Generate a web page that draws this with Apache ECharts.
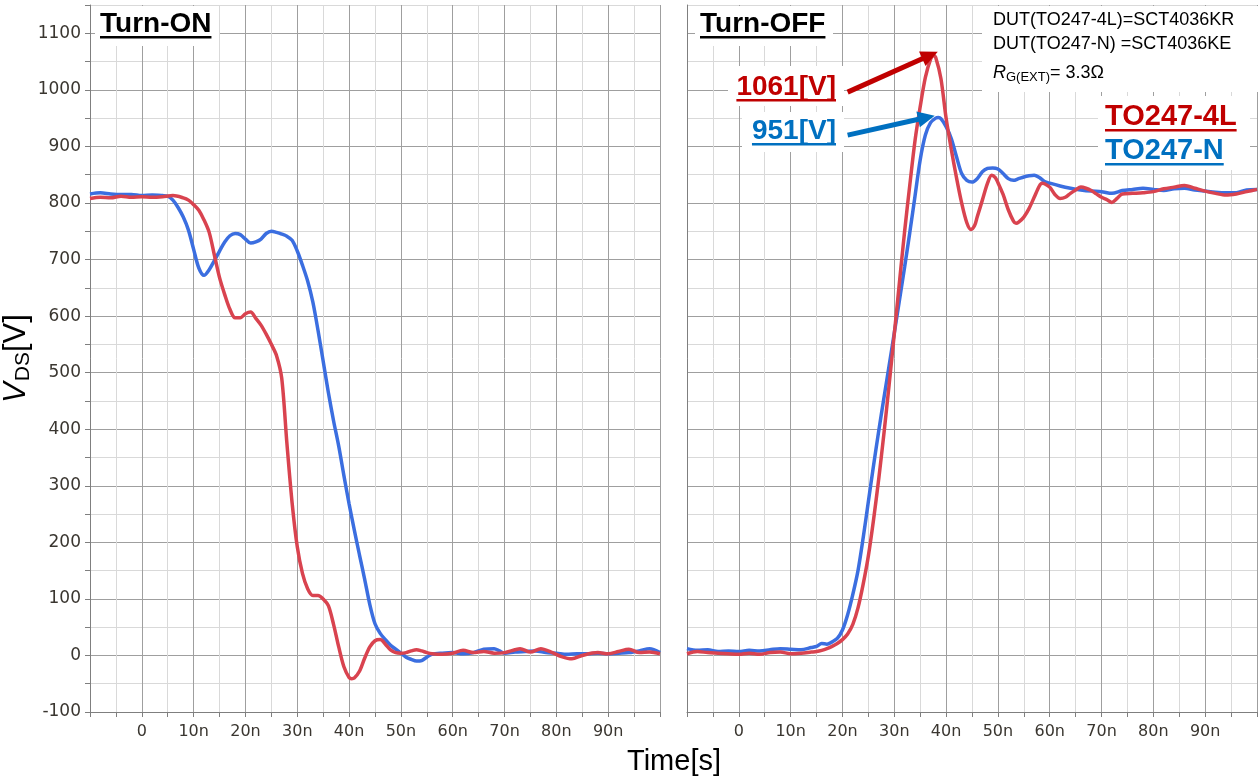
<!DOCTYPE html>
<html>
<head>
<meta charset="utf-8">
<title>VDS switching waveforms</title>
<script src="https://cdn.jsdelivr.net/npm/echarts@6/dist/echarts.min.js"></script>
<style>
  html, body { margin: 0; padding: 0; background: #ffffff; }
  #chart { width: 1260px; height: 781px; }
</style>
</head>
<body>
<div id="chart"></div>
<script>
// ---- Turn-ON, TO247-N (SCT4036KE) ----
const onTimeN = [-10,-8,-6,-4,-2,0,2,4,5,6,7,8,9,10,11,12,13,14,15,16,17,18,19,20,21,22,23,24,25,26,27,28,29,30,31,32,33,34,35,36,37,38,39,40,41,42,43,44,45,46,47,48,49,50,51,52,53,54,55,56,58,60,62,64,66,68,69,70,72,74,76,78,80,82,84,86,88,90,92,94,96,98,100];
const onVdsN  = [816,818,816,815,815,813,814,813,812,805,792,775,752,718,685,672,682,698,715,731,742,746,744,736,729,731,736,746,750,748,745,741,734,715,690,662,625,575,520,465,415,370,318,268,222,178,135,90,56,39,28,18,11,4,-3,-7,-10,-9,-3,2,4,5,3,5,11,12,8,4,6,7,8,5,4,2,3,3,4,3,4,5,8,12,5];

// ---- Turn-ON, TO247-4L (SCT4036KR) ----
const onTime4L = [-10,-8,-6,-4,-2,0,2,4,6,8,9,10,11,12,13,14,15,16,17,18,19,20,21,22,23,24,25,26,27,28,29,30,31,32,33,34,35,36,37,38,39,40,40.5,41,42,43,44,45,46,47,48,49,50,51,52,53,54,55,56,58,60,62,64,66,68,70,72,73,75,77,79,81,83,85,88,90,92,94,96,98,100];
const onVds4L  = [808,810,809,812,810,811,810,811,813,809,805,797,787,770,748,708,668,638,612,597,597,604,607,596,584,568,550,530,490,375,270,192,145,118,106,106,100,88,55,15,-20,-39,-41,-40,-28,-5,15,26,28,20,10,5,4,5,8,10,8,5,3,2,4,9,5,7,4,5,10,12,6,12,6,-2,-6,0,5,3,7,11,5,6,3];

// ---- Turn-OFF, TO247-N (SCT4036KE) ----
const offTimeN = [-10,-8,-6,-4,-2,0,2,4,6,8,10,12,14,15,16,17,18,19,20,21,22,23,24,25,26,27,28,29,30,31,32,33,34,35,36,37,38,38.5,39,40,41,42,43,44,45,46,47,48,49,50,51,52,53,54,55,56,57,58,59,60,62,64,66,68,70,72,74,76,78,80,82,84,86,88,90,92,94,96,98,100];
const offVdsN  = [12,9,10,7,8,7,9,8,10,12,11,10,14,16,21,20,24,30,45,72,108,150,208,272,336,397,455,512,570,628,687,748,812,876,920,942,950,951,949,935,914,882,852,840,837,843,855,861,862,860,852,843,840,843,846,848,849,845,838,835,830,826,823,821,820,817,822,824,826,824,822,825,826,823,821,819,818,818,823,824];

// ---- Turn-OFF, TO247-4L (SCT4036KR) ----
const offTime4L = [-10,-8,-6,-4,-2,0,2,4,6,8,10,12,14,15,16,17,18,19,20,21,22,23,24,25,26,27,28,29,30,31,32,33,34,35,36,37,37.6,38,39,40,41,42,43,44,44.8,45.5,46,47,48,48.8,49.5,50,51,52,53,53.5,54,55,56,57,58,58.5,59,60,61,62,63,64,65,66,67,68,69,70,71,72,73,74,76,78,80,82,84,86,88,90,92,94,96,98,100];
const offVds4L  = [3,7,5,4,3,2,4,2,5,6,3,4,6,7,9,12,16,21,28,38,55,84,126,176,240,312,392,478,568,660,750,832,910,970,1022,1054,1061,1057,1020,950,895,845,800,765,753,760,775,805,835,849,845,836,815,788,768,764,766,775,790,810,830,835,834,828,815,808,810,817,823,828,826,822,816,810,806,801,808,816,817,818,820,825,828,831,826,821,817,814,816,820,824];

// ---- axis ticks ----
const timeTickLabels = ['0','10n','20n','30n','40n','50n','60n','70n','80n','90n'];
const vdsTickLabels  = ['-100','0','100','200','300','400','500','600','700','800','900','1000','1100'];

// ---- colours ----
const RED_LINE = '#d9434f';
const BLUE_LINE = '#3b6ee0';
const RED_TEXT = '#c00000';
const BLUE_TEXT = '#0070c0';

const pairs = (xs, ys) => xs.map((x, i) => [x, ys[i]]);

const chart = echarts.init(document.getElementById('chart'), null, { renderer: 'canvas' });

function timeLabel(v) {
  const idx = Math.round(v / 10);
  if (Math.abs(v - idx * 10) < 1e-6 && idx >= 0 && idx < timeTickLabels.length) return timeTickLabels[idx];
  return '';
}
function vdsLabel(v) {
  const s = String(Math.round(v));
  return (Math.abs(v % 100) < 1e-6 && vdsTickLabels.indexOf(s) >= 0) ? s : '';
}

function makeXAxis(gridIndex) {
  return {
    type: 'value', gridIndex: gridIndex, min: -10, max: 100, interval: 5,
    axisLine: { show: true, onZero: false, lineStyle: { color: '#7f7f7f', width: 1 } },
    axisTick: { show: true, length: 5, lineStyle: { color: '#7f7f7f' } },
    axisLabel: { formatter: timeLabel, margin: 12, color: '#3a3630', fontFamily: 'DejaVu Sans', fontSize: 16 },
    splitLine: { show: true, lineStyle: { color: ['#9f9f9f', '#d9d9d9'], width: 1 } }
  };
}
function makeYAxis(gridIndex, withLabels) {
  const ax = {
    type: 'value', gridIndex: gridIndex, min: -100, max: 1150, interval: 50,
    axisLine: { show: true, onZero: false, lineStyle: { color: '#7f7f7f', width: 1 } },
    axisTick: { show: withLabels, length: 5, lineStyle: { color: '#7f7f7f' } },
    axisLabel: { show: withLabels, formatter: vdsLabel, margin: 9, color: '#3a3630', fontFamily: 'DejaVu Sans', fontSize: 17 },
    splitLine: { show: true, lineStyle: { color: ['#9f9f9f', '#d9d9d9'], width: 1 } }
  };
  if (withLabels) {
    ax.name = '{v|V}{s|DS}{n|[V]}';
    ax.nameLocation = 'middle';
    ax.nameRotate = 90;
    ax.nameGap = 54;
    ax.nameTextStyle = {
      color: '#000', fontFamily: 'Liberation Sans',
      rich: {
        v: { fontSize: 31, fontStyle: 'italic', fontFamily: 'Liberation Sans', color: '#000' },
        s: { fontSize: 21, fontFamily: 'Liberation Sans', color: '#000', padding: [13, 0, 0, 1] },
        n: { fontSize: 31, fontFamily: 'Liberation Sans', color: '#000' }
      }
    };
  }
  return ax;
}

function peakOf(ts, vs) {
  let k = 0;
  vs.forEach((v, i) => { if (v > vs[k]) k = i; });
  return [ts[k], vs[k]];
}
const peak4L = peakOf(offTime4L, offVds4L);
const peakN = peakOf(offTimeN, offVdsN);

function lineSeries(name, xi, ts, vs, color, extra) {
  return Object.assign({
    name: name, type: 'line', xAxisIndex: xi, yAxisIndex: xi,
    data: pairs(ts, vs), showSymbol: false, smooth: 0.3,
    lineStyle: { color: color, width: 3.5 }, itemStyle: { color: color },
    animation: false, z: 3
  }, extra || {});
}

const option = {
  backgroundColor: '#ffffff',
  animation: false,
  grid: [
    { left: 90, top: 5, width: 570, height: 707, containLabel: false },
    { left: 687, top: 5, width: 571, height: 707, containLabel: false }
  ],
  xAxis: [makeXAxis(0), makeXAxis(1)],
  yAxis: [makeYAxis(0, true), makeYAxis(1, false)],
  series: [
    lineSeries('TO247-N', 0, onTimeN, onVdsN, BLUE_LINE),
    lineSeries('TO247-4L', 0, onTime4L, onVds4L, RED_LINE),
    lineSeries('TO247-N', 1, offTimeN, offVdsN, BLUE_LINE, {
      markLine: {
        silent: true, symbol: ['none', 'triangle'], symbolSize: [16, 17],
        label: { show: false },
        lineStyle: { color: BLUE_TEXT, width: 5, type: 'solid' },
        data: [[{ coord: [21, 920] }, { coord: [peakN[0] - 2.3, peakN[1]] }]]
      }
    }),
    lineSeries('TO247-4L', 1, offTime4L, offVds4L, RED_LINE, {
      markLine: {
        silent: true, symbol: ['none', 'triangle'], symbolSize: [16, 17],
        label: { show: false },
        lineStyle: { color: RED_TEXT, width: 5, type: 'solid' },
        data: [[{ coord: [21, 996] }, { coord: [peak4L[0] - 0.7, peak4L[1]] }]]
      }
    })
  ]
};

// ---- text annotations ----
const ctx = document.createElement('canvas').getContext('2d');
function widthOf(str, font) { ctx.font = font; return ctx.measureText(str).width; }

const TITLE_FONT = 'bold 28px "Liberation Sans"';
const NOTE_FONT = '18px "Liberation Sans"';

const g = [];
function bgRect(x, y, w, h) {
  g.push({ type: 'rect', z: 20, silent: true, shape: { x: x, y: y, width: w, height: h }, style: { fill: '#ffffff' } });
}
function underlined(str, x, y, color, align, font) {
  const f = font || TITLE_FONT;
  const w = widthOf(str, f);
  const left = align === 'right' ? x - w : x;
  g.push({ type: 'text', z: 21, silent: true, style: { text: str, x: left, y: y, font: f, fill: color, verticalAlign: 'middle', align: 'left' } });
  g.push({ type: 'rect', z: 21, silent: true, shape: { x: left, y: y + 12, width: w, height: 2.5 }, style: { fill: color } });
}

bgRect(95, 6, 124, 40);
underlined('Turn-ON', 100, 24, '#000000');
bgRect(695, 6, 138, 40);
underlined('Turn-OFF', 700, 24, '#000000');

bgRect(728, 66, 116, 40);
underlined('1061[V]', 836, 87, RED_TEXT, 'right');
bgRect(742, 112, 102, 40);
underlined('951[V]', 836, 131, BLUE_TEXT, 'right');

bgRect(1098, 96, 152, 74);
underlined('TO247-4L', 1105, 117, RED_TEXT, 'left', 'bold 29px "Liberation Sans"');
underlined('TO247-N', 1105, 151, BLUE_TEXT, 'left', 'bold 29px "Liberation Sans"');

bgRect(982, 6, 276, 86);
g.push({ type: 'text', z: 21, silent: true, style: { text: 'DUT(TO247-4L)=SCT4036KR', x: 993, y: 20, font: NOTE_FONT, fill: '#000', verticalAlign: 'middle' } });
g.push({ type: 'text', z: 21, silent: true, style: { text: 'DUT(TO247-N) =SCT4036KE', x: 993, y: 44, font: NOTE_FONT, fill: '#000', verticalAlign: 'middle' } });
g.push({ type: 'text', z: 21, silent: true, style: {
  text: '{r|R}{s|G(EXT)}{n|= 3.3Ω}', x: 993, y: 73, verticalAlign: 'middle',
  rich: {
    r: { fontSize: 18, fontStyle: 'italic', fontFamily: 'Liberation Sans', fill: '#000' },
    s: { fontSize: 13, fontFamily: 'Liberation Sans', fill: '#000', padding: [8, 0, 0, 0] },
    n: { fontSize: 18, fontFamily: 'Liberation Sans', fill: '#000' }
  }
} });

g.push({ type: 'text', z: 21, silent: true, style: { text: 'Time[s]', x: 674, y: 762, font: '29px "Liberation Sans"', fill: '#000', align: 'center', verticalAlign: 'middle' } });

option.graphic = { elements: g };
chart.setOption(option);
</script>
</body>
</html>
